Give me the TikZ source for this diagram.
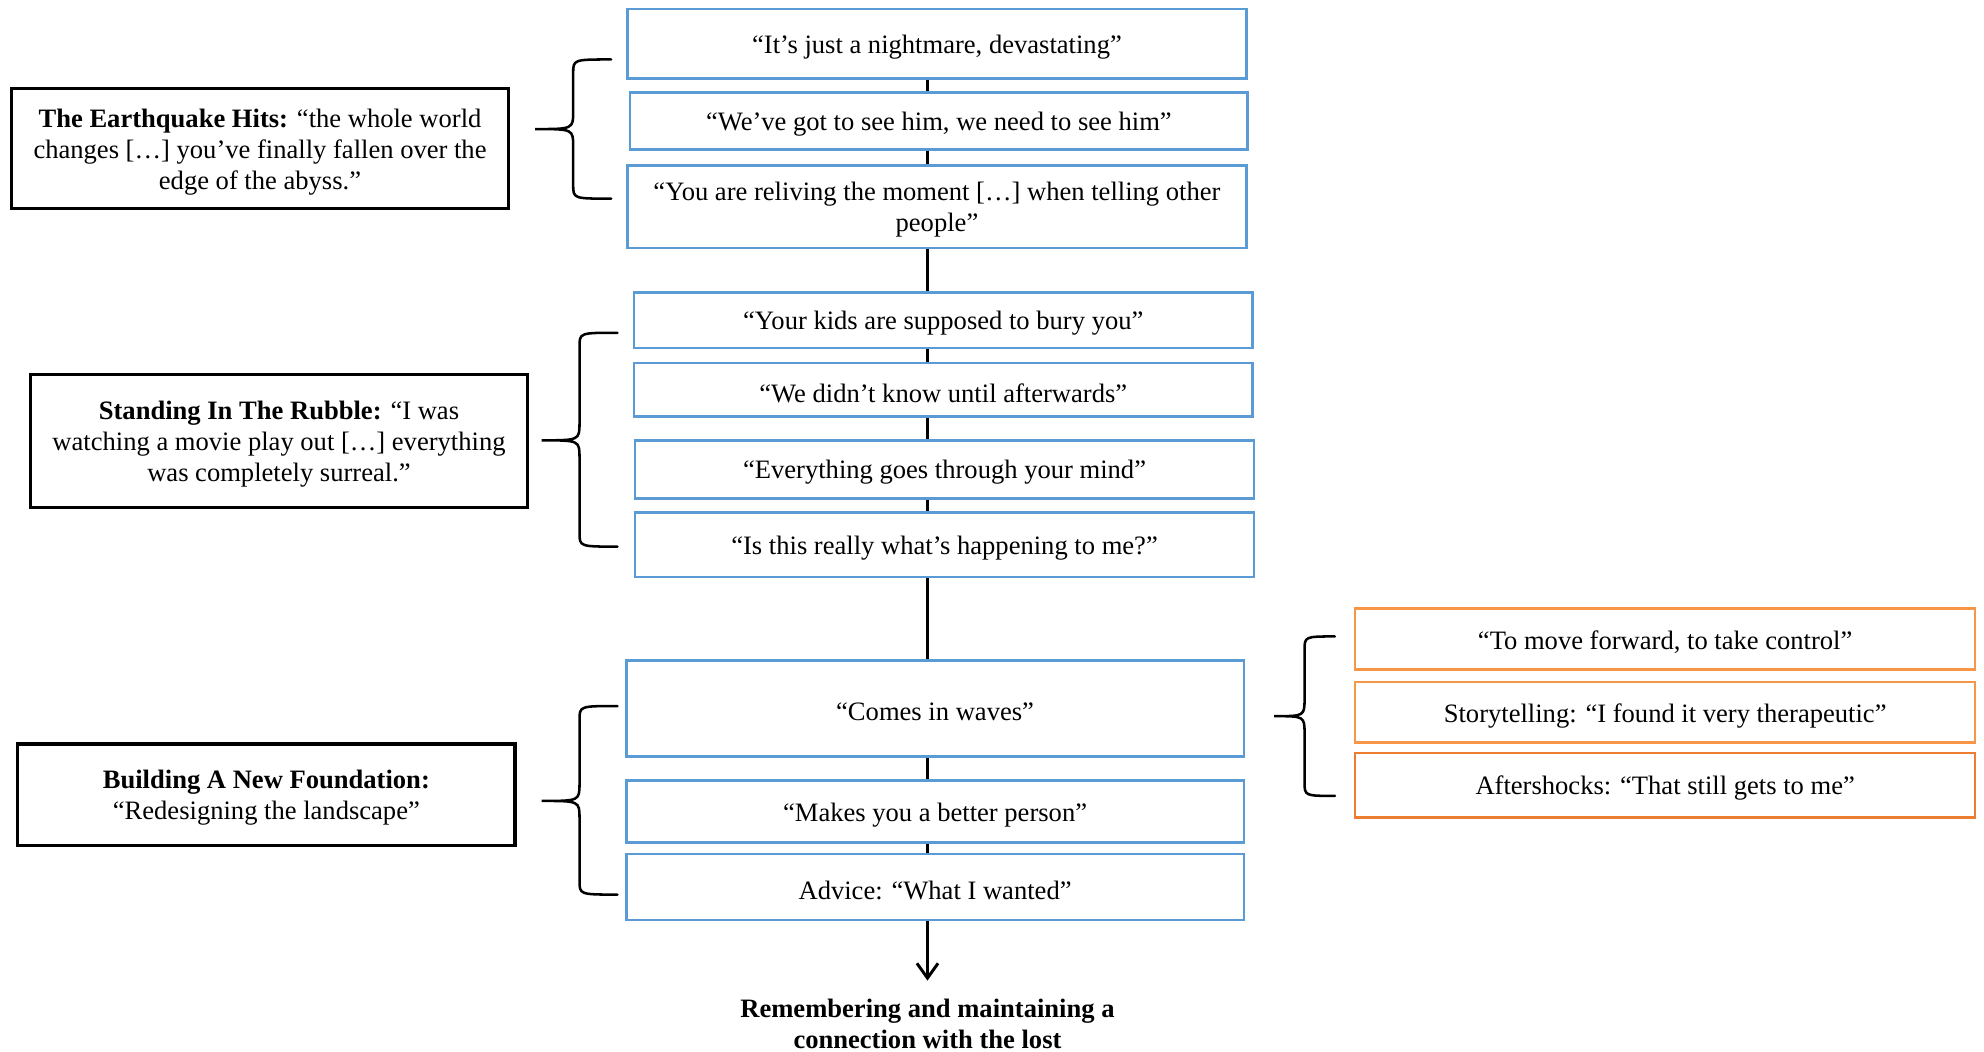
\documentclass[tikz,border=0pt]{standalone}
\usepackage{fontspec}
\setmainfont{Liberation Serif}
\usetikzlibrary{arrows.meta}
\definecolor{boxblue}{HTML}{5B9BD5}
\definecolor{boxorange}{HTML}{F79646}
\definecolor{boxorangedark}{HTML}{ED7D31}
\newcommand\drawbrace[6]{%
  \draw[bracestyle] ({#3},{#4}) .. controls ({#2},{#4}) .. ({#2},{#4+11})
    -- ({#2},{#5-14}) .. controls ({#2},{#5}) .. ({#1},{#5})
    .. controls ({#2},{#5}) .. ({#2},{#5+14})
    -- ({#2},{#6-11}) .. controls ({#2},{#6}) .. ({#3},{#6});}
\newcommand\cbox[7]{%
  \node[#2, minimum width={(#5-#3)*0.6pt}, minimum height={(#6-#4)*0.6pt}]
    (#1) at ({(#3+#5)/2},{(#4+#6)/2}) {};
  \node[boxtext] (#1-text) at ([yshift=-1.5pt]#1.center) {#7};}
\begin{document}
\begin{tikzpicture}[x=0.6pt,y=-0.6pt,
  every node/.style={font=\fontsize{12.6}{14.7}\selectfont},
  boxtext/.style={align=center, inner sep=0pt},
  bluebox/.style={draw=boxblue, line width=1.2pt, inner sep=0pt},
  orangebox/.style={draw=boxorange, line width=1.2pt, inner sep=0pt},
  orangeboxdark/.style={draw=boxorangedark, line width=1.2pt, inner sep=0pt},
  blackbox/.style={draw=black, line width=1.5pt, inner sep=0pt},
  spineline/.style={draw=black, line width=1.6pt},
  bracestyle/.style={draw=black, line width=1.2pt, line cap=round},
  goaltext/.style={align=center, font=\fontsize{12.6}{14.7}\selectfont\bfseries}]
\useasboundingbox (0,0) rectangle (1568,831);
\coordinate (spine) at (733,0);
% central column
\cbox{b1}{bluebox}{496}{7}{985}{62}{“It’s just a nightmare, devastating”}
\cbox{b2}{bluebox}{498}{73}{986}{118}{“We’ve got to see him, we need to see him”}
\cbox{b3}{bluebox}{496}{131}{985}{196}{“You are reliving the moment […] when telling other\\people”}
\cbox{b4}{bluebox}{501}{231}{990}{275}{“Your kids are supposed to bury you”}
\cbox{b5}{bluebox}{501}{287}{990}{329}{“We didn’t know until afterwards”}
\cbox{b6}{bluebox}{502}{348}{991}{394}{“Everything goes through your mind”}
\cbox{b7}{bluebox}{502}{405}{991}{456}{“Is this really what’s happening to me?”}
\cbox{b8}{bluebox}{495}{522}{983}{598}{“Comes in waves”}
\cbox{b9}{bluebox}{495}{617}{983}{666}{“Makes you a better person”}
\cbox{b10}{bluebox}{495}{675}{983}{727}{Advice: “What I wanted”}
\coordinate (arrowend) at (733,775);
\node[goaltext] (goal) at (733,809) {Remembering and maintaining a\\connection with the lost};
% spine connectors
\foreach \a/\b in {b1/b2,b2/b3,b3/b4,b4/b5,b5/b6,b6/b7,b7/b8,b8/b9,b9/b10}
  \draw[spineline] (\a.south -| spine) -- (\b.north -| spine);
\draw[spineline, -{Straight Barb[length=7pt,width=10pt,line width=1.4pt]}] (b10.south -| spine) -- (arrowend);
% left theme boxes
\cbox{t1}{blackbox}{9}{70}{402}{165}{\textbf{The Earthquake Hits:} “the whole world\\changes […] you’ve finally fallen over the\\edge of the abyss.”}
\cbox{t2}{blackbox}{24}{296}{417}{401}{\textbf{Standing In The Rubble:} “I was\\watching a movie play out […] everything\\was completely surreal.”}
\cbox{t3}{blackbox}{14}{588}{407}{668}{\textbf{Building A New Foundation:}\\“Redesigning the landscape”}
% right orange boxes
\cbox{o1}{orangebox}{1071}{481}{1561}{529}{“To move forward, to take control”}
\cbox{o2}{orangebox}{1071}{539}{1561}{587}{Storytelling: “I found it very therapeutic”}
\cbox{o3}{orangeboxdark}{1071}{595}{1561}{646}{Aftershocks: “That still gets to me”}
% braces
\drawbrace{423}{453}{483}{47}{102}{157}
\drawbrace{428}{458}{488}{263}{348}{432}
\drawbrace{428}{458}{488}{558}{633}{707}
\drawbrace{1007}{1031}{1055}{503}{566}{629}
\end{tikzpicture}
\end{document}
